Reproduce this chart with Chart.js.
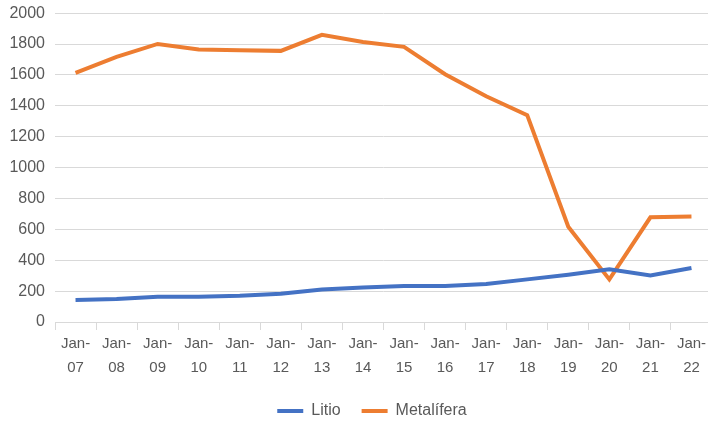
<!DOCTYPE html>
<html>
<head>
<meta charset="utf-8">
<script src="https://cdn.jsdelivr.net/npm/chart.js@4"></script>
<style>
  html, body { margin: 0; padding: 0; overflow: hidden; background: #fff; }
  #wrap { width: 712px; height: 422px; position: relative; }
</style>
</head>
<body>
<div id="wrap"><canvas id="myChart"></canvas></div>
<script>
const labels = [
  ['Jan-', '07'], ['Jan-', '08'], ['Jan-', '09'], ['Jan-', '10'],
  ['Jan-', '11'], ['Jan-', '12'], ['Jan-', '13'], ['Jan-', '14'],
  ['Jan-', '15'], ['Jan-', '16'], ['Jan-', '17'], ['Jan-', '18'],
  ['Jan-', '19'], ['Jan-', '20'], ['Jan-', '21'], ['Jan-', '22']
];
const litio = [142, 149, 164, 164, 170, 183, 211, 224, 233, 233, 246, 276, 306, 341, 302, 350];
const metalifera = [1613, 1717, 1801, 1765, 1760, 1756, 1860, 1814, 1782, 1605, 1462, 1340, 617, 276, 678, 684];

// el centro de la leyenda en el original queda algo a la derecha
const shiftLegend = {
  id: 'shiftLegend',
  afterLayout(chart) {
    if (chart.legend) {
      chart.legend.left += 16;
      chart.legend.right += 16;
    }
  }
};

document.addEventListener('DOMContentLoaded', () => {
  const ctx = document.getElementById('myChart').getContext('2d');
  Chart.defaults.font.family = '"Liberation Sans", Arial, sans-serif';
  Chart.defaults.font.size = 15;
  Chart.defaults.color = '#595959';

  new Chart(ctx, {
    type: 'line',
    data: {
      labels: labels,
      datasets: [
        {
          label: 'Litio',
          data: litio,
          borderColor: '#4472C4',
          backgroundColor: '#4472C4',
          borderWidth: 4,
          pointRadius: 0,
          tension: 0
        },
        {
          label: 'Metalífera',
          data: metalifera,
          borderColor: '#ED7D31',
          backgroundColor: '#ED7D31',
          borderWidth: 4,
          pointRadius: 0,
          tension: 0
        }
      ]
    },
    plugins: [shiftLegend],
    options: {
      responsive: true,
      maintainAspectRatio: false,
      animation: false,
      layout: { padding: { top: 0, left: 0, right: 0, bottom: -7 } },
      plugins: {
        tooltip: { enabled: false },
        legend: {
          position: 'bottom',
          labels: {
            boxWidth: 26,
            boxHeight: 4,
            padding: 21,
            font: { size: 16 },
            generateLabels: (chart) => {
              const items = Chart.defaults.plugins.legend.labels.generateLabels(chart);
              items.forEach(it => { it.lineWidth = 0; });
              return items;
            }
          }
        }
      },
      scales: {
        x: {
          offset: true,
          grid: {
            offset: true,
            drawOnChartArea: false,
            drawTicks: true,
            tickLength: 8,
            color: '#d9d9d9'
          },
          border: { color: '#d9d9d9' },
          ticks: {
            maxRotation: 0,
            autoSkip: false,
            padding: 2,
            font: { lineHeight: 1.6 }
          }
        },
        y: {
          min: 0,
          max: 2000,
          afterFit: (scale) => { scale.width = 55; },
          ticks: {
            stepSize: 200,
            padding: 10,
            font: { size: 16, lineHeight: 0.4 },
            callback: (v) => String(v)
          },
          grid: { color: '#d9d9d9', drawTicks: false },
          border: { display: false }
        }
      }
    }
  });
});
</script>
</body>
</html>
